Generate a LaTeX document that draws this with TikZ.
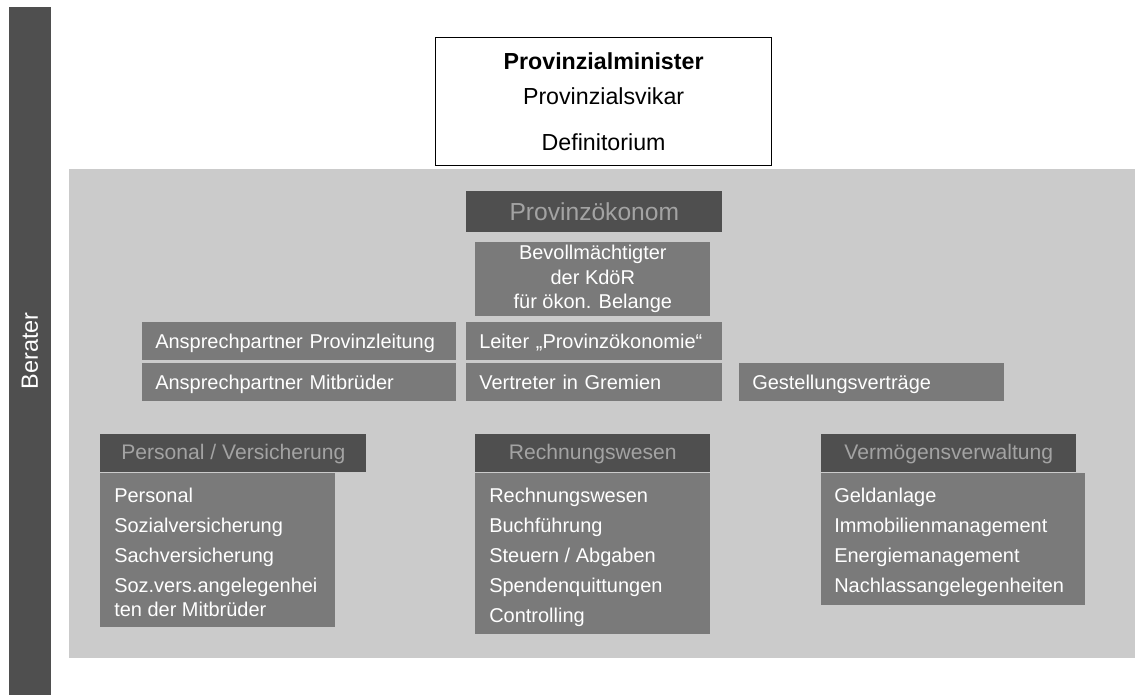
\documentclass[tikz,border=0pt]{standalone}
\usepackage{fontspec}
\setmainfont{Liberation Sans}
\definecolor{cdark}{HTML}{4F4F4F}
\definecolor{cmid}{HTML}{7A7A7A}
\definecolor{cpale}{HTML}{CBCBCB}
\definecolor{chead}{HTML}{A3A3A3}
\newcommand{\txtbody}{\fontsize{14.2}{21.3}\selectfont}
\newcommand{\txthead}{\fontsize{15}{18}\selectfont}
\tikzset{
  panel/.style={fill=#1, anchor=north west, inner sep=0pt},
  sz/.style 2 args={minimum width=#1, minimum height=#2},
  row/.style={fill=cmid, text=white, anchor=north west, align=left, inner xsep=0.325cm, inner ysep=0pt,
    minimum height=0.95cm, text width=#1, text height=0.35cm, text depth=0pt, font=\txtbody},
  head/.style={fill=cdark, text=chead, anchor=north west, inner sep=0pt, minimum height=0.95cm,
    minimum width=#1, text height=0.3cm, text depth=0pt, font=\txthead},
  item/.style={anchor=base west, text=white, inner sep=0pt, font=\txtbody},
}

\begin{document}
\begin{tikzpicture}[x=0.025cm, y=-0.025cm]
  \useasboundingbox (0,0) rectangle (1139,695);
  \node[fill=cdark, text=white, rotate=90, inner sep=0pt, minimum width=17.2cm, minimum height=1.05cm,
    font=\fontsize{16.7}{20}\selectfont] (berater) at (30,351) {Berater};
  \node[panel=cpale, sz={26.625cm}{12.225cm}] (feld) at (69,169) {};
  % leitung
  \node[panel=white, draw=black, line width=0.8pt, sz={8.4cm}{3.2cm}, align=center,
    font=\fontsize{16.5}{24.9}\selectfont] (leitung) at (435,37) {\textbf{Provinzialminister}\\Provinzialsvikar\\[7.8pt]Definitorium};
  \node[head=6.4cm, minimum height=1.025cm, text height=0.425cm, font=\fontsize{17.5}{21}\selectfont] (oekonom) at (466,191) {Provinzökonom};
  \node[panel=cmid, sz={5.875cm}{1.85cm}, text=white, align=center, font=\fontsize{14.2}{17.4}\selectfont] (bev) at (475,242) {Bevollmächtigter\\der KdöR\\für ökon. Belange};
  \node[row=7.2cm] (apl) at (142,322) {Ansprechpartner Provinzleitung};
  \node[row=7.2cm] (amb) at (142,363) {Ansprechpartner Mitbrüder};
  \node[row=5.75cm] (leiter) at (466,322) {Leiter „Provinzökonomie“};
  \node[row=5.75cm] (vertreter) at (466,363) {Vertreter in Gremien};
  \node[row=5.975cm] (gest) at (739,363) {Gestellungsverträge};
  % bereiche
  \node[head=6.65cm] (pershead) at (100,434) {Personal / Versicherung};
  \node[panel=cmid, sz={5.875cm}{3.85cm}] (persbody) at (100,473) {};
  \foreach \t/\y [count=\i] in {Personal/502, Sozialversicherung/532, Sachversicherung/562, Soz.vers.angelegenhei/592, ten der Mitbrüder/616}
    \node[item] (pers\i) at (114,\y) {\t};
  \node[head=5.875cm] (rechhead) at (475,434) {Rechnungswesen};
  \node[panel=cmid, sz={5.875cm}{4.025cm}] (rechbody) at (475,473) {};
  \foreach \t [count=\i] in {Rechnungswesen, Buchführung, Steuern / Abgaben, Spendenquittungen, Controlling}
    \node[item] (rech\i) at (489,472+30*\i) {\t};
  \node[head=6.375cm] (vermhead) at (821,434) {Vermögensverwaltung};
  \node[panel=cmid, sz={6.6cm}{3.3cm}] (vermbody) at (821,473) {};
  \foreach \t [count=\i] in {Geldanlage, Immobilienmanagement, Energiemanagement, Nachlassangelegenheiten}
    \node[item] (verm\i) at (834,472+30*\i) {\t};
\end{tikzpicture}
\end{document}
